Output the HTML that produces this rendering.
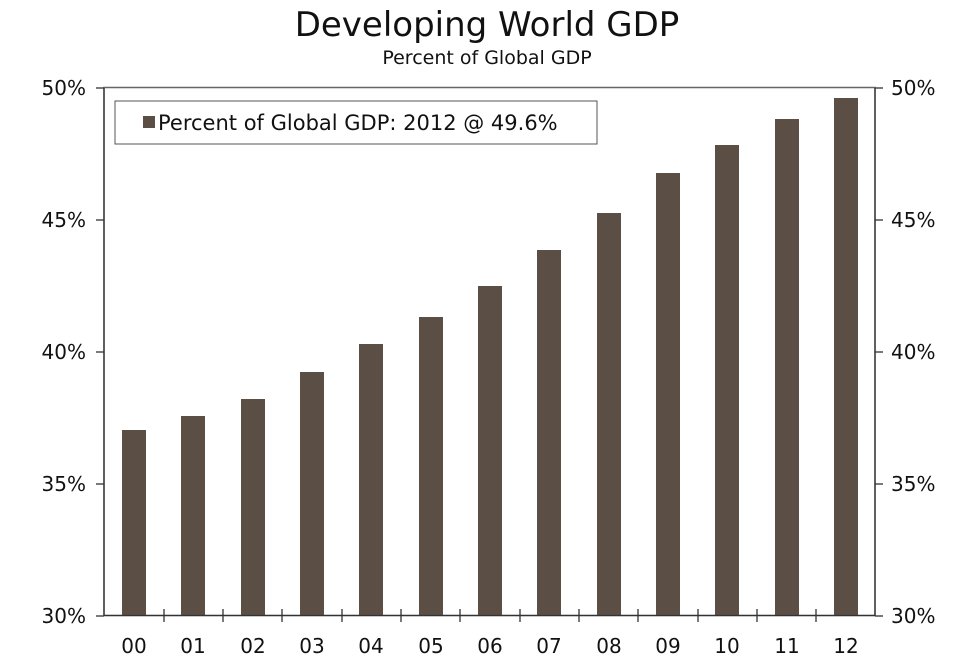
<!DOCTYPE html>
<html><head><style>body{margin:0;background:#fff;}</style></head><body>
<svg width="964" height="667" xmlns="http://www.w3.org/2000/svg" font-family="'DejaVu Sans', 'Liberation Sans', sans-serif">
<text x="487" y="36" font-size="34" text-anchor="middle" fill="#111">Developing World GDP</text>
<text x="487" y="64" font-size="19" text-anchor="middle" fill="#111">Percent of Global GDP</text>
<rect x="104" y="87.5" width="771" height="528" fill="none" stroke="#666" stroke-width="1.5"/>
<g fill="#5b4f45">
<rect x="122" y="430" width="24" height="186"/>
<rect x="181" y="416" width="24" height="200"/>
<rect x="241" y="399" width="24" height="217"/>
<rect x="300" y="372" width="24" height="244"/>
<rect x="359" y="344" width="24" height="272"/>
<rect x="419" y="317" width="24" height="299"/>
<rect x="478" y="286" width="24" height="330"/>
<rect x="537" y="250" width="24" height="366"/>
<rect x="597" y="213" width="24" height="403"/>
<rect x="656" y="173" width="24" height="443"/>
<rect x="715" y="145" width="24" height="471"/>
<rect x="775" y="119" width="24" height="497"/>
<rect x="834" y="98" width="24" height="518"/>
</g>
<g stroke="#333" stroke-width="1.3">
<line x1="104" y1="615.5" x2="875" y2="615.5"/>
<line x1="104" y1="88" x2="104" y2="616"/>
<line x1="875" y1="88" x2="875" y2="616"/>
<line x1="96" y1="88" x2="104" y2="88"/><line x1="96" y1="220" x2="104" y2="220"/><line x1="96" y1="352" x2="104" y2="352"/><line x1="96" y1="484" x2="104" y2="484"/><line x1="96" y1="616" x2="104" y2="616"/>
<line x1="875" y1="88" x2="883" y2="88"/><line x1="875" y1="220" x2="883" y2="220"/><line x1="875" y1="352" x2="883" y2="352"/><line x1="875" y1="484" x2="883" y2="484"/><line x1="875" y1="616" x2="883" y2="616"/>
<line x1="164" y1="609" x2="164" y2="622"/><line x1="223" y1="609" x2="223" y2="622"/><line x1="282" y1="609" x2="282" y2="622"/><line x1="342" y1="609" x2="342" y2="622"/><line x1="401" y1="609" x2="401" y2="622"/><line x1="460" y1="609" x2="460" y2="622"/><line x1="520" y1="609" x2="520" y2="622"/><line x1="579" y1="609" x2="579" y2="622"/><line x1="638" y1="609" x2="638" y2="622"/><line x1="698" y1="609" x2="698" y2="622"/><line x1="757" y1="609" x2="757" y2="622"/><line x1="816" y1="609" x2="816" y2="622"/>
</g>
<g font-size="20" fill="#111" text-anchor="end">
<text x="86" y="95">50%</text><text x="86" y="227">45%</text><text x="86" y="359">40%</text><text x="86" y="491">35%</text><text x="86" y="623">30%</text>
</g>
<g font-size="20" fill="#111">
<text x="891" y="95">50%</text><text x="891" y="227">45%</text><text x="891" y="359">40%</text><text x="891" y="491">35%</text><text x="891" y="623">30%</text>
</g>
<g font-size="20" fill="#111" text-anchor="middle">
<text x="134" y="653">00</text><text x="193" y="653">01</text><text x="253" y="653">02</text><text x="312" y="653">03</text><text x="371" y="653">04</text><text x="431" y="653">05</text><text x="490" y="653">06</text><text x="549" y="653">07</text><text x="609" y="653">08</text><text x="668" y="653">09</text><text x="727" y="653">10</text><text x="787" y="653">11</text><text x="846" y="653">12</text>
</g>
<rect x="115" y="101" width="482" height="43" fill="#fff" stroke="#555" stroke-width="1"/>
<rect x="143" y="116" width="12" height="12" fill="#5b4f45"/>
<text x="158" y="130" font-size="21" fill="#111">Percent of Global GDP: 2012 @ 49.6%</text>
</svg>
</body></html>
